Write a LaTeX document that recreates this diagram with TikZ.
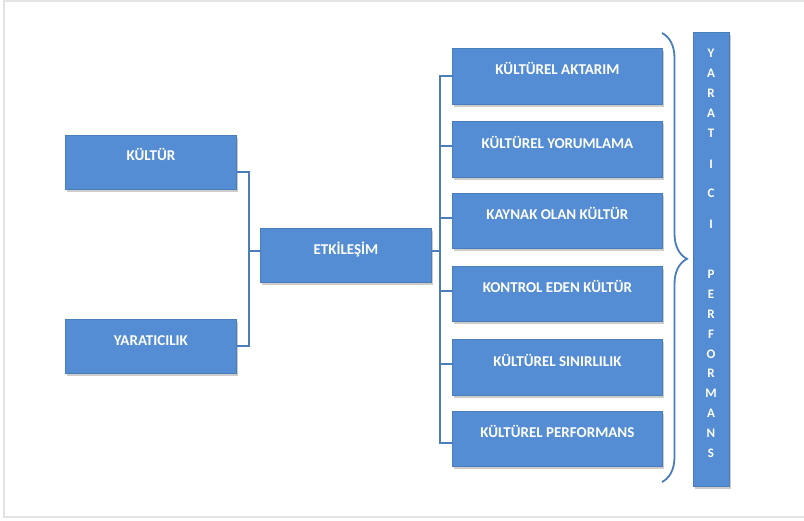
\documentclass[tikz,border=0pt]{standalone}
\usepackage{fontspec}
\setmainfont{Carlito}
\newfontfamily\cbold{Carlito}[UprightFont=* Bold]
\usetikzlibrary{shadows,decorations.pathreplacing}
\definecolor{boxblue}{HTML}{548DD4}
\definecolor{edgeblue}{HTML}{4A7EBB}
\definecolor{framegray}{HTML}{E3E3E3}
\tikzset{
  box/.style={draw=edgeblue, line width=0.8pt, fill=boxblue, anchor=north west, inner sep=0pt,
    drop shadow={shadow xshift=1.2pt, shadow yshift=-2.5pt, opacity=0.2, fill=black}},
  lbl/.style={text=white, font=\cbold\fontsize{15}{17}\selectfont, inner sep=0pt, text height=9.3pt, text depth=0pt},
  vl/.style={text=white, font=\cbold\fontsize{13}{14}\selectfont, inner sep=0pt, text height=8.3pt, text depth=0pt},
  conn/.style={draw=edgeblue, line width=1.8pt},
}
\begin{document}
\begin{tikzpicture}[x=1pt,y=-1pt]
\useasboundingbox (0,0) rectangle (804,521);
\draw[framegray, line width=2pt] (820,1) -- (4,1) -- (4,517) -- (820,517);
% left boxes
\node[box, minimum width=171pt, minimum height=54pt, label={[lbl,yshift=7pt]center:KÜLTÜR}] (kul) at (65,135) {};
\node[box, minimum width=171pt, minimum height=54pt, label={[lbl,yshift=6pt]center:YARATICILIK}] (yar) at (65,319) {};
\node[box, minimum width=171pt, minimum height=54pt, label={[lbl,yshift=6pt]center:ETKİLEŞİM}] (etk) at (260,228) {};
% right boxes
\node[box, minimum width=210pt, minimum height=56pt, label={[lbl,yshift=6.5pt]center:KÜLTÜREL AKTARIM}] (r1) at (452,48) {};
\node[box, minimum width=210pt, minimum height=56pt, label={[lbl,yshift=6pt]center:KÜLTÜREL YORUMLAMA}] (r2) at (452,121) {};
\node[box, minimum width=210pt, minimum height=55pt, label={[lbl,yshift=6.5pt]center:KAYNAK OLAN KÜLTÜR}] (r3) at (452,193) {};
\node[box, minimum width=210pt, minimum height=55pt, label={[lbl,yshift=6.5pt]center:KONTROL EDEN KÜLTÜR}] (r4) at (452,266) {};
\node[box, minimum width=210pt, minimum height=56pt, label={[lbl,yshift=5.5pt]center:KÜLTÜREL SINIRLILIK}] (r5) at (452,339) {};
\node[box, minimum width=210pt, minimum height=55pt, label={[lbl,yshift=6pt]center:KÜLTÜREL PERFORMANS}] (r6) at (452,411) {};
% vertical bar
\node[box, minimum width=36pt, minimum height=454pt] (bar) at (693,32) {};
\foreach \c/\y [count=\i] in {Y/53,A/73,R/93,A/113,T/133,I/164,C/193,I/224,P/274,E/294,R/314,F/334,O/354,R/373,M/393,A/413,N/433,S/453}
  \node[vl] (l\i) at (711,\y) {\c};
% left connector
\coordinate (jl) at (249,251);
\draw[conn] ([yshift=-10pt]kul.east) -| (jl) |- ([yshift=0pt]yar.east);
\draw[conn] (jl) -- (jl -| etk.west);
% right connector
\coordinate (jr) at (440,251);
\draw[conn] (etk.east |- jr) -- (jr);
\draw[conn] ([yshift=0pt]r1.west) -- ++(-12,0) |- ([yshift=-4pt]r6.west);
\foreach \n in {r2,r3,r4,r5}
  \draw[conn] ([yshift=3pt]\n.west) -- ++(-12,0);
% brace
\coordinate (bt) at (662,33);
\coordinate (bb) at (662,482);
\draw[edgeblue, line width=1.8pt, decorate, decoration={brace, amplitude=25pt, aspect=0.503}] (bt) -- (bb);
\end{tikzpicture}
\end{document}
